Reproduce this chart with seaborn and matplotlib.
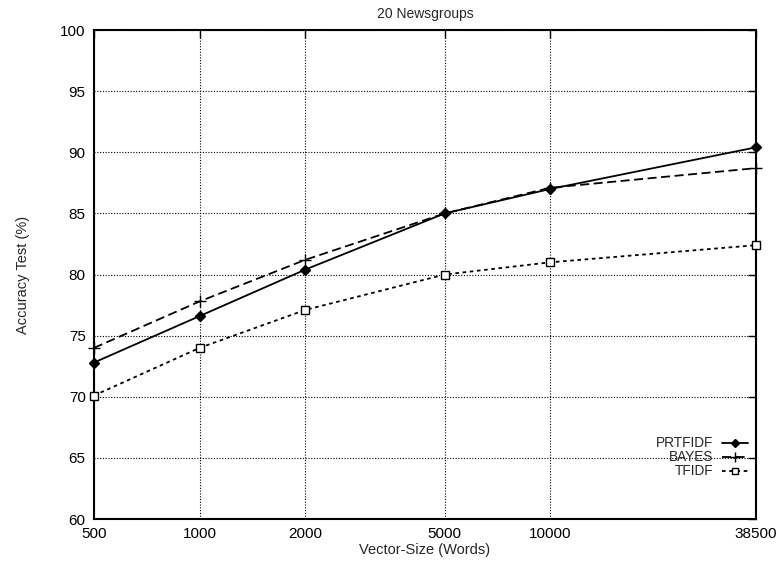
import matplotlib
matplotlib.use("Agg")
import matplotlib.pyplot as plt
import seaborn as sns
import pandas as pd
from matplotlib.ticker import FixedLocator, NullLocator

vector_sizes = [500, 1000, 2000, 5000, 10000, 38500]
tick_labels = ["500", "1000", "2000", "5000", "10000", "38500"]
prtfidf = [72.8, 76.6, 80.4, 85.0, 87.0, 90.4]
bayes = [74.0, 77.8, 81.2, 85.0, 87.1, 88.7]
tfidf = [70.1, 74.0, 77.1, 80.0, 81.0, 82.4]
series_names = ["PRTFIDF", "BAYES", "TFIDF"]

sns.set_style("white")
plt.rcParams["font.family"] = ["Liberation Sans", "DejaVu Sans"]

fig = plt.figure(figsize=(7.8, 5.63), dpi=100)
ax = fig.add_axes([0.1205, 0.0781, 0.969 - 0.1205, 0.9467 - 0.0781])

df = pd.DataFrame({"x": vector_sizes * 3,
                   "y": prtfidf + bayes + tfidf,
                   "method": sum([[n] * len(vector_sizes) for n in series_names], [])})

styles = {
    "PRTFIDF": dict(marker="D", markersize=5, markerfacecolor="black", dashes=None),
    "BAYES": dict(marker="+", markersize=9, markerfacecolor="none", dashes=(5, 2.5)),
    "TFIDF": dict(marker="s", markersize=6, markerfacecolor="white", dashes=(2, 2)),
}
for name in series_names:
    st = styles[name]
    kw = dict(color="black", linewidth=1.3, marker=st["marker"], markersize=st["markersize"],
              markerfacecolor=st["markerfacecolor"], markeredgecolor="black", markeredgewidth=1.0)
    if st["dashes"] is not None:
        kw["dashes"] = st["dashes"]
    sns.lineplot(data=df[df["method"] == name], x="x", y="y", ax=ax, label=name,
                 clip_on=False, zorder=5, **kw)

ax.set_xscale("log")
ax.set_xlim(500, 38500)
ax.set_ylim(60, 100)
ax.xaxis.set_major_locator(FixedLocator(vector_sizes))
ax.xaxis.set_minor_locator(NullLocator())
ax.set_xticklabels(tick_labels)
ax.set_yticks(list(range(60, 101, 5)))

ax.grid(True, which="major", color="black", linestyle=(0, (1, 1.5)), linewidth=0.8)
for s in ax.spines.values():
    s.set_color("black")
    s.set_linewidth(1.5)
ax.tick_params(axis="both", which="major", direction="in", length=6, width=1,
               top=True, right=True, labelsize=11, colors="black", pad=6)

ax.set_title("20 Newsgroups", fontsize=10, pad=9)
ax.set_xlabel("Vector-Size (Words)", fontsize=10.5, labelpad=1)
ax.set_ylabel("Accuracy Test (%)", fontsize=10.5, labelpad=22)

leg = ax.legend(loc="lower right", bbox_to_anchor=(1.007, 0.058), frameon=False,
                markerfirst=False, handlelength=1.9, handletextpad=0.65,
                labelspacing=0.0, fontsize=9.8, markerscale=0.8, borderpad=0.4)
for t in leg.get_texts():
    t.set_ha("right")

fig.savefig("out.png", dpi=100)
